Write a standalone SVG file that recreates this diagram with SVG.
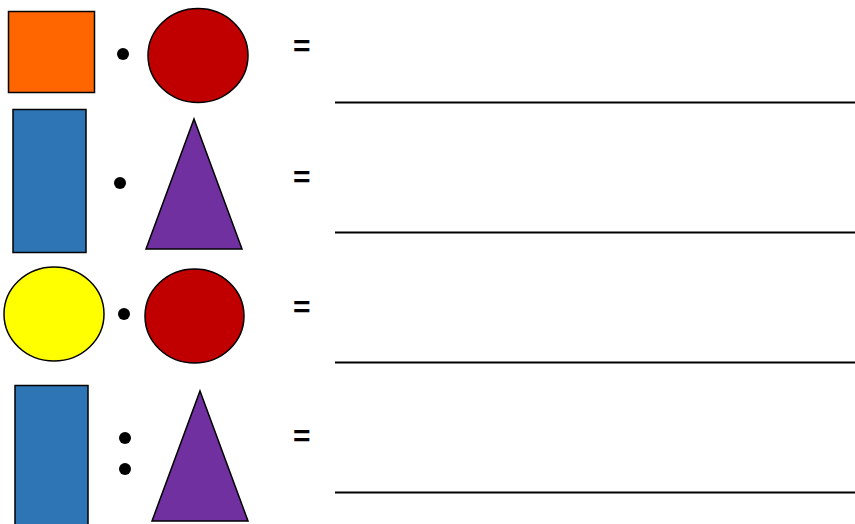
<svg xmlns="http://www.w3.org/2000/svg" width="855" height="524" viewBox="0 0 855 524">
<style>
.s{stroke:#000;stroke-width:1.5}
.dot{fill:#000}
.eq{font-family:"Liberation Sans",Arial,sans-serif;font-size:30px;font-weight:bold;fill:#000}
.ln{stroke:#000;stroke-width:2.2}
</style>
<rect width="855" height="524" fill="#fff"/>
<g id="row1">
<rect id="orange-square" class="s" x="8.5" y="11.5" width="86" height="81" fill="#FF6600"/>
<circle class="dot" cx="123" cy="54" r="6"/>
<ellipse id="red-circle-1" class="s" cx="198" cy="55.5" rx="50" ry="47" fill="#C00000"/>
<text class="eq" x="293" y="56">=</text>
<line class="ln" x1="335" y1="102.5" x2="855" y2="102.5"/>
</g>
<g id="row2">
<rect id="blue-rect-1" class="s" x="13" y="109.5" width="73" height="143" fill="#2E75B6"/>
<circle class="dot" cx="120" cy="183" r="6"/>
<polygon id="triangle-1" class="s" points="194,119 242,249 146,249" fill="#7030A0"/>
<text class="eq" x="293" y="186.5">=</text>
<line class="ln" x1="335" y1="232.5" x2="855" y2="232.5"/>
</g>
<g id="row3">
<ellipse id="yellow-circle" class="s" cx="54" cy="314" rx="50" ry="47" fill="#FFFF00"/>
<circle class="dot" cx="124" cy="314" r="6"/>
<ellipse id="red-circle-2" class="s" cx="194.5" cy="316" rx="49.5" ry="47" fill="#C00000"/>
<text class="eq" x="293" y="317">=</text>
<line class="ln" x1="335" y1="362.5" x2="855" y2="362.5"/>
</g>
<g id="row4">
<rect id="blue-rect-2" class="s" x="15" y="385.5" width="73" height="145" fill="#2E75B6"/>
<circle class="dot" cx="125" cy="438" r="6"/>
<circle class="dot" cx="125" cy="469" r="6"/>
<polygon id="triangle-2" class="s" points="200,391 248,521 152,521" fill="#7030A0"/>
<text class="eq" x="293" y="446">=</text>
<line class="ln" x1="335" y1="492.5" x2="855" y2="492.5"/>
</g>
<g id="connectors"/>
</svg>
